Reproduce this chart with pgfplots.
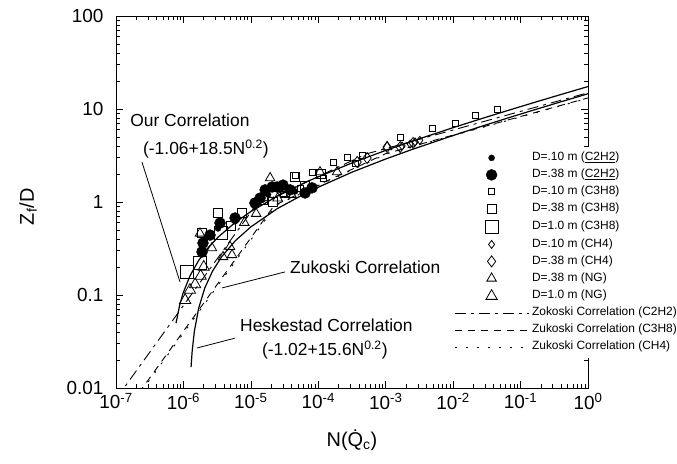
\documentclass[border=0pt]{standalone}
\usepackage{pgfplots}
\pgfplotsset{compat=1.18}
\usepackage{fontspec}
\setmainfont{Liberation Sans}
\begin{document}
\begin{tikzpicture}
\useasboundingbox (0,0) rectangle (677bp,464bp);
\begin{axis}[
  at={(116bp,76bp)}, anchor=south west,
  scale only axis, width=472bp, height=372bp,
  xmode=log, ymode=log,
  xmin=1e-7, xmax=1, ymin=0.01, ymax=100,
  xtick={1e-7,1e-6,1e-5,1e-4,1e-3,1e-2,1e-1,1},
  xticklabels={10\textsuperscript{-7},10\textsuperscript{-6},10\textsuperscript{-5},10\textsuperscript{-4},10\textsuperscript{-3},10\textsuperscript{-2},10\textsuperscript{-1},10\textsuperscript{0}},
  ytick={0.01,0.1,1,10,100},
  yticklabels={0.01,0.1,1,10,100},
  /pgf/number format/assume math mode=true,
  tick align=inside,
  major tick length=7bp, minor tick length=4bp,
  every tick/.style={black, line width=0.6bp},
  axis line style={line width=0.9bp},
  ticklabel style={font=\fontsize{19}{19}\selectfont},
  yticklabel style={xshift=-9bp},
  xticklabel style={yshift=-2bp},
  xlabel={N(\.{Q}\textsubscript{c})},
  ylabel={Z\textsubscript{f}/D},
  label style={font=\fontsize{20}{22}\selectfont},
  xlabel style={at={(axis description cs:0.5,-0.14)}, anchor=center},
  ylabel style={at={(axis description cs:-0.186,0.487)}, anchor=center},
  legend image code/.code={\draw[mark repeat=2,mark phase=2,#1] plot coordinates {(0bp,0bp) (37bp,0bp) (74bp,0bp)};},
  legend cell align=left,
  legend style={at={(0.716,0.648)}, anchor=north west, draw=none, fill=white,
    inner xsep=0pt, inner ysep=5bp, row sep=5.5bp,
    font=\fontsize{12}{14}\selectfont,
    nodes={inner sep=0pt, text height=8.6bp, text depth=2.9bp},
    /tikz/every odd column/.append style={column sep=3bp}},
]
% D=.10 m C2H2
\addplot[only marks, mark=*, mark size=3bp, black] coordinates {
(1.76e-6,0.30) (2.09e-6,0.40) (3.26e-6,0.52) (5.83e-6,0.62) (1.15e-5,0.90)
(1.80e-5,1.20) (2.71e-5,1.35) (4.53e-5,1.30) (7.55e-5,1.45)};
\addlegendentry{D=.10 m (\underline{C2H2})}
% D=.38 m C2H2
\addplot[only marks, mark=*, mark size=5.5bp, black] coordinates {
(1.89e-6,0.29) (1.95e-6,0.362) (2.48e-6,0.441) (3.49e-6,0.594) (5.83e-6,0.673)
(1.15e-5,0.975) (1.37e-5,1.10) (1.63e-5,1.35) (2.07e-5,1.45) (2.45e-5,1.45)
(3.0e-5,1.52) (3.82e-5,1.35) (6.37e-5,1.25) (8.09e-5,1.42)};
\addlegendentry{D=.38 m (\underline{C2H2})}
% D=.10 m C3H8
\addplot[only marks, mark=square, mark size=3bp, black, mark options={line width=0.8bp}] coordinates {
(3.0e-5,1.2) (4.53e-5,1.95) (5.5e-5,1.4) (8.09e-5,2.10) (1.2e-4,1.8) (1.66e-4,2.69)
(2.67e-4,3.05) (3.5e-4,2.6) (4.47e-4,3.20) (1.64e-3,5.00) (4.88e-3,6.25)
(1.07e-2,7.07) (2.12e-2,8.62) (4.50e-2,10.0)};
\addlegendentry{D=.10 m (C3H8)}
% D=.38 m C3H8
\addplot[only marks, mark=square, mark size=4.5bp, black, mark options={line width=0.8bp}] coordinates {
(1.89e-6,0.46) (3.26e-6,0.762) (5.0e-6,0.55) (7.40e-6,0.762) (1.52e-5,1.05) (2.13e-5,1.0)
(3.2e-5,1.3) (4.53e-5,1.86) (6.4e-5,1.5) (1.1e-4,2.0)};
\addlegendentry{D=.38 m (C3H8)}
% D=1.0 m C3H8
\addplot[only marks, mark=square, mark size=6.5bp, black, mark options={line width=0.8bp}] coordinates {
(1.13e-6,0.177) (1.76e-6,0.221) (3.6e-6,0.46)};
\addlegendentry{D=1.0 m (C3H8)}
% D=.10 m CH4
\addplot[only marks, mark=diamond, mark size=4bp, black, mark options={line width=0.8bp}] coordinates {
(1.75e-3,4.0) (2.30e-3,4.2) (2.73e-3,4.42) (3.2e-3,4.6)};
\addlegendentry{D=.10 m (CH4)}
% D=.38 m CH4
\addplot[only marks, mark=diamond, mark size=5.5bp, black, mark options={line width=0.8bp}] coordinates {
(3.77e-4,2.69) (5.30e-4,2.97) (1.05e-3,3.90) (1.64e-3,3.90) (2.55e-3,4.31)};
\addlegendentry{D=.38 m (CH4)}
% D=.38 m NG
\addplot[only marks, mark=triangle, mark size=5.5bp, black, mark options={line width=0.8bp}] coordinates {
(1.76e-6,0.46) (2.65e-6,0.32) (3.87e-6,0.257) (4.91e-6,0.33) (5.26e-6,0.27)
(8.0e-6,0.6) (1.2e-5,0.75) (1.93e-5,1.81) (2.5e-5,1.1) (4.0e-5,1.2) (1.06e-4,2.10)
(1.90e-4,2.10) (1.05e-3,3.90)};
\addlegendentry{D=.38 m (NG)}
% D=1.0 m NG
\addplot[only marks, mark=triangle, mark size=6.5bp, black, mark options={line width=0.8bp}] coordinates {
(1.06e-6,0.088) (1.25e-6,0.113) (1.49e-6,0.13) (1.8e-6,0.16) (2.0e-6,0.20)};
\addlegendentry{D=1.0 m (NG)}
% Zukoski C2H2
\addplot[black, line width=0.9bp, dash pattern=on 11bp off 5bp on 3bp off 5bp] coordinates {
(1e-7,0.00762) (1.181e-5,0.92) (5.25e-4,3.3) (1,14.95)};
\addlegendentry{Zokoski Correlation (C2H2)}
% Zukoski C3H8
\addplot[black, line width=0.9bp, dash pattern=on 7bp off 6bp] coordinates {
(1e-7,0.00404) (2.2275e-5,0.92) (9.9e-4,3.3) (1,13.16)};
\addlegendentry{Zukoski Correlation (C3H8)}
% Zukoski CH4
\addplot[black, line width=0.9bp, dash pattern=on 2bp off 9bp] coordinates {
(1e-7,0.00385) (2.34e-5,0.92) (1.04e-3,3.3) (1,13.03)};
\addlegendentry{Zukoski Correlation (CH4)}
% Our correlation
\addplot[black, line width=1.2bp, forget plot] coordinates {
(7.776e-7,0.05)
(8.798e-7,0.0778) (9.925e-7,0.1055) (1.252e-6,0.161) (1.6807e-6,0.235) (2.373e-6,0.3275)
(3.2768e-6,0.42) (5.905e-6,0.605) (1e-5,0.79) (2.488e-5,1.16) (7.594e-5,1.715)
(3.2e-4,2.64) (9.766e-4,3.565) (2.43e-3,4.49) (1.024e-2,6.34) (3.125e-2,8.19)
(7.776e-2,10.04) (0.16807,11.89) (0.32768,13.74) (0.59049,15.59) (1,17.44)};
% Heskestad correlation
\addplot[black, line width=1.2bp, forget plot] coordinates {
(1.297e-6,0.0168) (1.350e-6,0.0252) (1.454e-6,0.0408)
(1.6807e-6,0.072) (2.073e-6,0.1188) (2.707e-6,0.1812) (3.708e-6,0.2592) (5.905e-6,0.384)
(1e-5,0.54) (2.488e-5,0.852) (7.594e-5,1.32) (3.2e-4,2.10) (9.766e-4,2.88)
(2.43e-3,3.66) (1.024e-2,5.22) (3.125e-2,6.78) (7.776e-2,8.34) (0.16807,9.90)
(0.32768,11.46) (0.59049,13.02) (1,14.58)};
% annotations
\node[anchor=west, font=\fontsize{17.5}{17.5}\selectfont, inner sep=0pt] at (axis description cs:0.03,0.72) {Our Correlation};
\node[anchor=west, font=\fontsize{17.5}{17.5}\selectfont, inner sep=0pt] at (axis description cs:0.057,0.642) {(-1.06+18.5N\textsuperscript{0.2})};
\draw[line width=0.8bp] (axis description cs:0.055,0.6075) -- (axis description cs:0.1356,0.285);
\node[anchor=west, font=\fontsize{17.5}{17.5}\selectfont, inner sep=0pt] at (axis description cs:0.3686,0.325) {Zukoski Correlation};
\draw[line width=0.8bp] (axis description cs:0.358,0.312) -- (axis description cs:0.2246,0.269);
\node[anchor=west, font=\fontsize{17.5}{17.5}\selectfont, inner sep=0pt] at (axis description cs:0.2627,0.169) {Heskestad Correlation};
\node[anchor=west, font=\fontsize{17.5}{17.5}\selectfont, inner sep=0pt] at (axis description cs:0.309,0.102) {(-1.02+15.6N\textsuperscript{0.2})};
\draw[line width=0.8bp] (axis description cs:0.252,0.134) -- (axis description cs:0.1716,0.1075);
\end{axis}
\end{tikzpicture}
\end{document}
